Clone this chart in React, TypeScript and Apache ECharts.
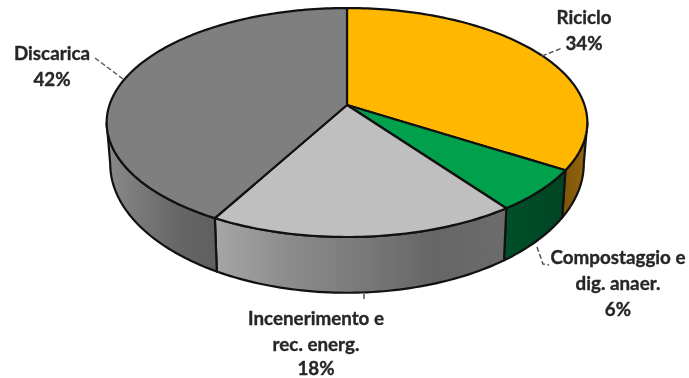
import React, { useEffect, useRef } from "react";
import * as echarts from "echarts";

const categories = ["Riciclo", "Compostaggio e\ndig. anaer.", "Incenerimento e\nrec. energ.", "Discarica"];
const shares = [34, 6, 18, 42];

const topColors = ["#FFB700", "#00A04C", "#BFBFBF", "#7F7F7F"];
const sideStops = [
  ["#7d5408", "#94660f"],
  ["#00502a", "#004424"],
  ["#a6a6a6", "#8c8c8c", "#7a7a7a", "#666666", "#6c6c6c"],
  ["#8a8a8a", "#777777", "#666666", "#5f5f5f"],
];

// Perspective model of the disc, measured on the page.
const CX = 347;
const K = 0.153;
const TOP = { ay: 105, A: 237.5, B: 111.8 };
const BOTTOM = { ay: 144, A: 234, B: 126 };
const SILHOUETTE = Math.acos(-K);

function rim(p: typeof TOP, t: number): [number, number] {
  const d = 1 + K * Math.cos(t);
  return [CX + (p.A * Math.sin(t)) / d, p.ay - (p.B * Math.cos(t)) / d];
}
function arc(p: typeof TOP, a: number, b: number): [number, number][] {
  const n = Math.max(2, Math.ceil(Math.abs(b - a) / 0.02));
  const out: [number, number][] = [];
  for (let i = 0; i <= n; i++) out.push(rim(p, a + ((b - a) * i) / n));
  return out;
}

const total = shares.reduce((a, b) => a + b, 0);
const rows = shares.map((v, i) => [v, shares.slice(0, i).reduce((a, b) => a + b, 0), i]);
const OUTLINE = "#111111";

function renderItem(_: any, api: any) {
  const value = api.value(0);
  const start = (api.value(1) / total) * Math.PI * 2;
  const end = start + (value / total) * Math.PI * 2;
  const idx = api.value(2);
  const children: any[] = [];
  const lo = Math.max(start, SILHOUETTE);
  const hi = Math.min(end, Math.PI * 2 - SILHOUETTE);
  if (hi > lo) {
    const stops = sideStops[idx];
    const pts = [...arc(TOP, lo, hi), ...arc(BOTTOM, hi, lo)];
    children.push({
      type: "polygon",
      shape: { points: pts },
      style: {
        fill: new echarts.graphic.LinearGradient(
          0, 0, 1, 0,
          stops.map((color, i) => ({ offset: i / (stops.length - 1), color }))
        ),
        stroke: OUTLINE,
        lineWidth: 2.2,
        lineJoin: "round",
      },
    });
  }
  const top = [[CX, TOP.ay], ...arc(TOP, start, end)];
  children.push({
    type: "polygon",
    shape: { points: top },
    style: { fill: topColors[idx], stroke: OUTLINE, lineWidth: 2.2, lineJoin: "round" },
  });
  return { type: "group", children };
}

const LINE = 25.7;
const labelFont = {
  fontFamily: "Lato",
  fontWeight: "bold" as const,
  fontSize: 18.8,
  fill: "#262626",
  stroke: "#262626",
  lineWidth: 0.35,
  textAlign: "center" as const,
};
const labelPlaces = [
  { x: 584, y: 4 },
  { x: 618, y: 244 },
  { x: 316, y: 304.5 },
  { x: 52, y: 40 },
];
const leaderPaths = [
  [[542, 56], [562, 48]],
  [[537, 247], [543, 264], [549, 265]],
  [[364, 294], [364, 301]],
  [[95, 58], [123, 79]],
];

export default function App() {
  const ref = useRef<HTMLDivElement>(null);
  useEffect(() => {
    document.body.style.margin = "0";
    document.body.style.background = "#fff";
    const chart = echarts.init(ref.current!, undefined, { renderer: "svg" });
    chart.setOption({
      animation: false,
      backgroundColor: "#ffffff",
      series: [
        {
          type: "custom",
          coordinateSystem: "none",
          renderItem,
          data: rows,
          silent: true,
        },
      ],
      graphic: [
        ...leaderPaths.map((points) => ({
          type: "polyline",
          shape: { points },
          style: { stroke: "#555555", lineWidth: 1.5, lineDash: [5, 2.5], fill: "none" },
          z: 5,
        })),
        ...categories.map((name, i) => ({
          type: "text",
          x: labelPlaces[i].x,
          y: labelPlaces[i].y,
          z: 6,
          style: { ...labelFont, lineHeight: LINE, textVerticalAlign: "top", text: name },
        })),
        ...categories.map((name, i) => ({
          type: "text",
          x: labelPlaces[i].x,
          y: Math.min(labelPlaces[i].y + (name.split("\n").length + 0.5) * LINE, 367.5),
          z: 6,
          style: { ...labelFont, lineHeight: 19, textVerticalAlign: "middle", text: `${shares[i]}%` },
        })),
      ],
    });
    return () => chart.dispose();
  }, []);
  return <div ref={ref} style={{ position: "absolute", left: 0, top: 0, width: 689, height: 378, filter: "blur(0.5px)" }} />;
}
